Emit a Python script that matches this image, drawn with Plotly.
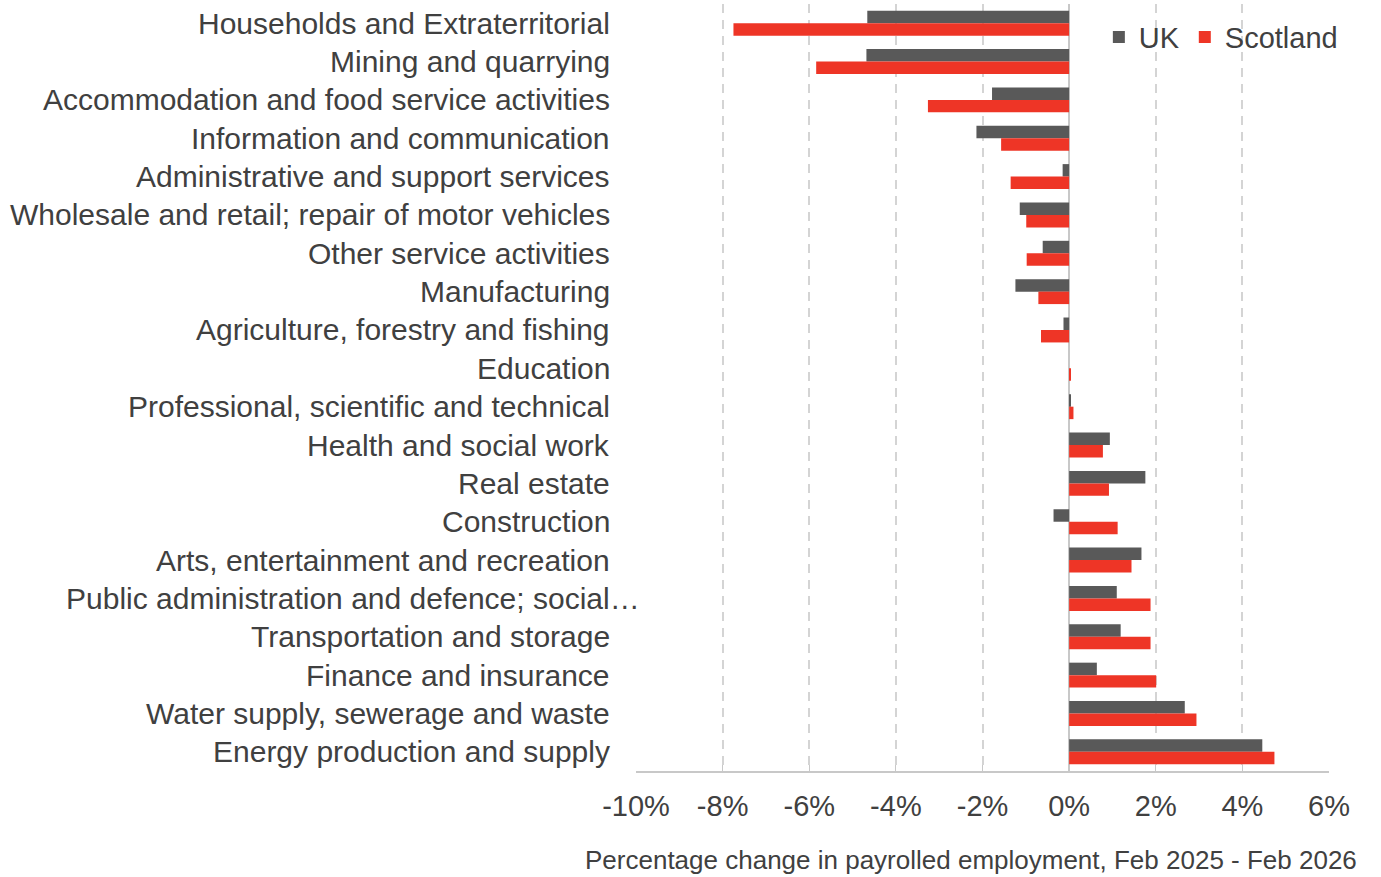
import plotly.graph_objects as go

# Industry sectors, top to bottom
sectors = [
    "Households and Extraterritorial",
    "Mining and quarrying",
    "Accommodation and food service activities",
    "Information and communication",
    "Administrative and support services",
    "Wholesale and retail; repair of motor vehicles",
    "Other service activities",
    "Manufacturing",
    "Agriculture, forestry and fishing",
    "Education",
    "Professional, scientific and technical",
    "Health and social work",
    "Real estate",
    "Construction",
    "Arts, entertainment and recreation",
    "Public administration and defence; social\u2026",
    "Transportation and storage",
    "Finance and insurance",
    "Water supply, sewerage and waste",
    "Energy production and supply",
]

# Percentage change in payrolled employment, Feb 2025 - Feb 2026
uk_change = [-4.66, -4.68, -1.78, -2.14, -0.15, -1.14, -0.61, -1.24, -0.13, 0.0,
             0.03, 0.94, 1.76, -0.36, 1.67, 1.10, 1.19, 0.64, 2.67, 4.46]
scotland_change = [-7.75, -5.84, -3.26, -1.57, -1.35, -0.99, -0.98, -0.71, -0.65, 0.04,
                   0.10, 0.78, 0.92, 1.12, 1.44, 1.88, 1.88, 2.01, 2.94, 4.74]

x_ticks = [-10, -8, -6, -4, -2, 0, 2, 4, 6]
x_tick_text = ["-10%", "-8%", "-6%", "-4%", "-2%", "0%", "2%", "4%", "6%"]

UK_COLOR = "#595959"
SCOT_COLOR = "#EE3526"
TEXT_COLOR = "#404040"
FONT = "Liberation Sans, Arial, sans-serif"

fig = go.Figure()
fig.add_trace(go.Bar(y=sectors, x=uk_change, orientation="h", name="UK",
                     marker=dict(color=UK_COLOR, line=dict(width=0))))
fig.add_trace(go.Bar(y=sectors, x=scotland_change, orientation="h", name="Scotland",
                     marker=dict(color=SCOT_COLOR, line=dict(width=0))))

# Category labels drawn as right-aligned annotations beside the plot area
for name in sectors:
    shift = 6 if name.endswith("\u2026") else -24
    fig.add_annotation(x=0, xref="paper", y=name, yref="y", text=name,
                       showarrow=False, xanchor="right", yanchor="middle",
                       xshift=shift, font=dict(family=FONT, size=30, color=TEXT_COLOR))

# Axis caption below the tick labels
fig.add_annotation(x=0.5, xref="paper", y=0, yref="paper", yanchor="middle",
                   xshift=-12, yshift=-89, showarrow=False,
                   text="Percentage change in payrolled employment, Feb 2025 - Feb 2026",
                   font=dict(family=FONT, size=26, color=TEXT_COLOR))

fig.update_layout(
    width=1381, height=877,
    margin=dict(l=636, r=52, t=4, b=106),
    paper_bgcolor="white", plot_bgcolor="white",
    barmode="group", bargap=0.35, bargroupgap=0,
    font=dict(family=FONT, color=TEXT_COLOR),
    showlegend=True,
    legend=dict(orientation="h", x=1.02, xanchor="right", y=0.99, yanchor="top",
                font=dict(family=FONT, size=29, color=TEXT_COLOR),
                bgcolor="rgba(255,255,255,0)", itemwidth=30,
                traceorder="normal"),
    xaxis=dict(
        range=[-10, 6], tickvals=x_ticks, ticktext=x_tick_text,
        showgrid=True, gridcolor="#D4D4D4", griddash="9px,7px", gridwidth=1.5,
        zeroline=True, zerolinecolor="#C8C8C8", zerolinewidth=1.5,
        showline=True, linecolor="#C8C8C8", linewidth=1.5,
        ticks="inside", ticklen=6, tickcolor="#C8C8C8",
        tickfont=dict(family=FONT, size=29, color=TEXT_COLOR),
        ticklabelstandoff=8,
        fixedrange=True,
    ),
    yaxis=dict(
        autorange="reversed", showticklabels=False, showgrid=False,
        showline=False, ticks="", fixedrange=True,
    ),
)

fig.write_html("out.html")
